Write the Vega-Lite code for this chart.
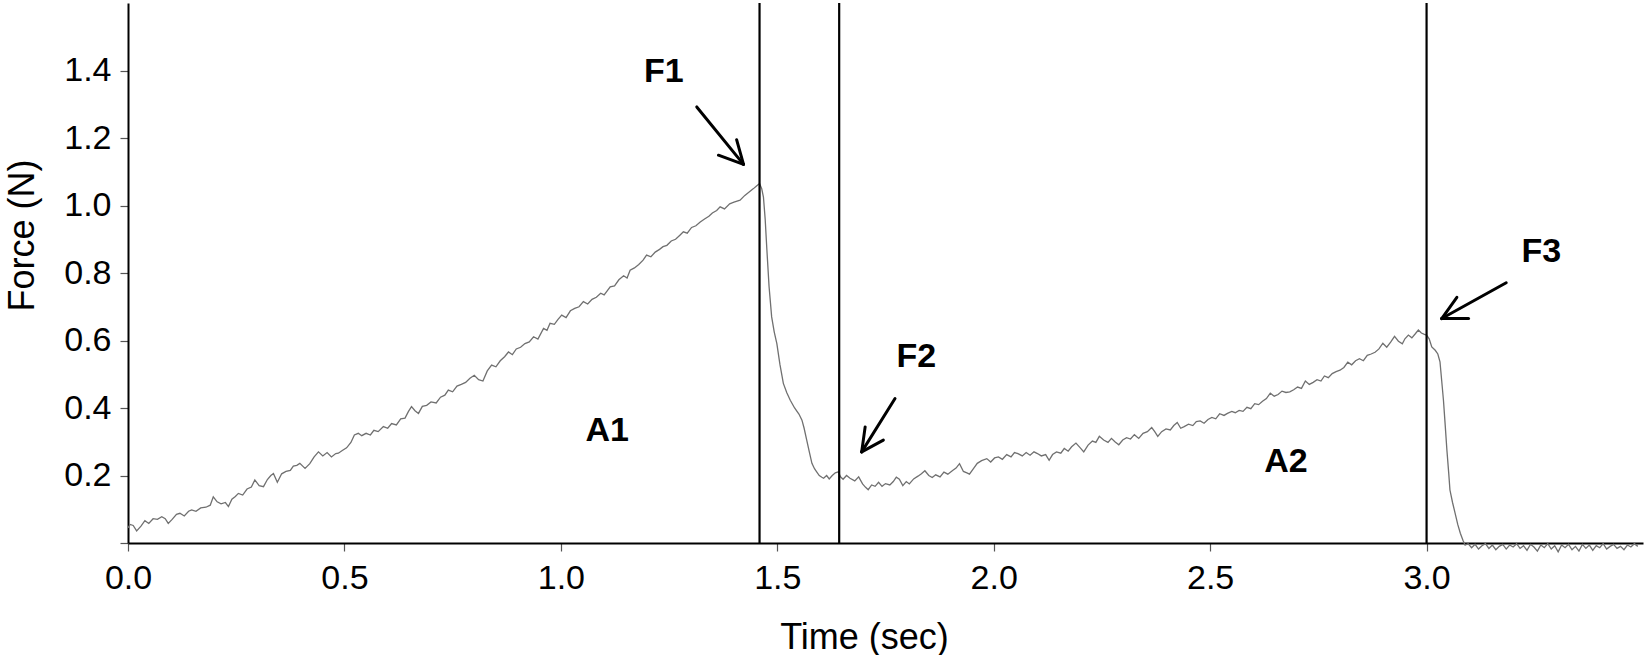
{
  "$schema": "https://vega.github.io/schema/vega-lite/v6.json",
  "autosize": {"type": "none"},
  "padding": {"left": 128, "top": 3, "right": 4, "bottom": 112},
  "width": 1515,
  "height": 540,
  "background": "white",
  "config": {
    "view": {"stroke": null},
    "font": "Liberation Sans",
    "axis": {
      "domainColor": "black",
      "domainWidth": 2,
      "tickColor": "#555",
      "tickWidth": 1.2,
      "tickSize": 8,
      "labelFont": "Liberation Sans",
      "labelFontSize": 34,
      "labelColor": "black",
      "labelFlush": false,
      "titleFont": "Liberation Sans",
      "titleFontSize": 36,
      "titleFontWeight": "normal",
      "titleColor": "black",
      "grid": false
    }
  },
  "datasets": {
    "force": [
      {"t":0.000,"f":0.045},{"t":0.005,"f":0.055},{"t":0.012,"f":0.052},{"t":0.020,"f":0.036},{"t":0.030,"f":0.050},
      {"t":0.039,"f":0.066},{"t":0.048,"f":0.058},{"t":0.058,"f":0.072},{"t":0.068,"f":0.070},{"t":0.078,"f":0.078},
      {"t":0.086,"f":0.072},{"t":0.093,"f":0.058},{"t":0.102,"f":0.070},{"t":0.112,"f":0.085},{"t":0.120,"f":0.088},
      {"t":0.130,"f":0.080},{"t":0.140,"f":0.094},{"t":0.147,"f":0.098},{"t":0.157,"f":0.094},{"t":0.168,"f":0.104},
      {"t":0.180,"f":0.106},{"t":0.190,"f":0.112},{"t":0.197,"f":0.137},{"t":0.206,"f":0.122},{"t":0.215,"f":0.116},
      {"t":0.225,"f":0.120},{"t":0.232,"f":0.108},{"t":0.240,"f":0.130},{"t":0.248,"f":0.138},{"t":0.255,"f":0.147},
      {"t":0.265,"f":0.142},{"t":0.275,"f":0.160},{"t":0.285,"f":0.166},{"t":0.293,"f":0.187},{"t":0.303,"f":0.170},
      {"t":0.313,"f":0.167},{"t":0.322,"f":0.188},{"t":0.330,"f":0.200},{"t":0.336,"f":0.206},{"t":0.345,"f":0.180},
      {"t":0.355,"f":0.205},{"t":0.365,"f":0.212},{"t":0.375,"f":0.215},{"t":0.382,"f":0.228},{"t":0.390,"f":0.230},
      {"t":0.397,"f":0.236},{"t":0.409,"f":0.221},{"t":0.420,"f":0.235},{"t":0.430,"f":0.255},{"t":0.440,"f":0.270},
      {"t":0.450,"f":0.258},{"t":0.460,"f":0.268},{"t":0.470,"f":0.255},{"t":0.480,"f":0.265},{"t":0.486,"f":0.266},
      {"t":0.495,"f":0.274},{"t":0.505,"f":0.282},{"t":0.515,"f":0.298},{"t":0.523,"f":0.320},{"t":0.532,"f":0.325},
      {"t":0.540,"f":0.318},{"t":0.550,"f":0.325},{"t":0.560,"f":0.320},{"t":0.568,"f":0.334},{"t":0.578,"f":0.330},
      {"t":0.590,"f":0.345},{"t":0.600,"f":0.340},{"t":0.609,"f":0.354},{"t":0.620,"f":0.350},{"t":0.630,"f":0.368},
      {"t":0.640,"f":0.370},{"t":0.648,"f":0.390},{"t":0.655,"f":0.404},{"t":0.663,"f":0.392},{"t":0.671,"f":0.384},
      {"t":0.680,"f":0.405},{"t":0.690,"f":0.408},{"t":0.700,"f":0.418},{"t":0.712,"f":0.415},{"t":0.722,"f":0.432},
      {"t":0.732,"f":0.438},{"t":0.740,"f":0.453},{"t":0.750,"f":0.448},{"t":0.760,"f":0.465},{"t":0.770,"f":0.470},
      {"t":0.780,"f":0.476},{"t":0.790,"f":0.488},{"t":0.800,"f":0.497},{"t":0.810,"f":0.484},{"t":0.820,"f":0.480},
      {"t":0.830,"f":0.510},{"t":0.840,"f":0.527},{"t":0.850,"f":0.522},{"t":0.860,"f":0.540},{"t":0.870,"f":0.552},
      {"t":0.879,"f":0.566},{"t":0.888,"f":0.558},{"t":0.897,"f":0.575},{"t":0.907,"f":0.580},{"t":0.917,"f":0.591},
      {"t":0.927,"f":0.596},{"t":0.937,"f":0.611},{"t":0.947,"f":0.604},{"t":0.960,"f":0.636},{"t":0.968,"f":0.630},
      {"t":0.975,"f":0.651},{"t":0.985,"f":0.648},{"t":0.993,"f":0.662},{"t":1.002,"f":0.675},{"t":1.012,"f":0.668},
      {"t":1.022,"f":0.688},{"t":1.032,"f":0.695},{"t":1.042,"f":0.700},{"t":1.052,"f":0.715},{"t":1.062,"f":0.708},
      {"t":1.072,"f":0.722},{"t":1.082,"f":0.728},{"t":1.092,"f":0.740},{"t":1.100,"f":0.735},{"t":1.114,"f":0.759},
      {"t":1.124,"f":0.762},{"t":1.134,"f":0.780},{"t":1.145,"f":0.792},{"t":1.153,"f":0.785},{"t":1.160,"f":0.808},
      {"t":1.170,"f":0.815},{"t":1.180,"f":0.825},{"t":1.190,"f":0.838},{"t":1.198,"f":0.853},{"t":1.208,"f":0.848},
      {"t":1.218,"f":0.862},{"t":1.228,"f":0.870},{"t":1.236,"f":0.878},{"t":1.245,"f":0.882},{"t":1.255,"f":0.895},
      {"t":1.265,"f":0.900},{"t":1.275,"f":0.912},{"t":1.283,"f":0.922},{"t":1.292,"f":0.918},{"t":1.302,"f":0.935},
      {"t":1.312,"f":0.940},{"t":1.322,"f":0.951},{"t":1.332,"f":0.960},{"t":1.342,"f":0.968},{"t":1.350,"f":0.978},
      {"t":1.360,"f":0.985},{"t":1.368,"f":0.996},{"t":1.378,"f":0.990},{"t":1.390,"f":1.005},{"t":1.400,"f":1.010},
      {"t":1.414,"f":1.016},{"t":1.425,"f":1.030},{"t":1.435,"f":1.040},{"t":1.445,"f":1.050},{"t":1.452,"f":1.058},
      {"t":1.459,"f":1.065},{"t":1.464,"f":1.050},{"t":1.468,"f":1.025},{"t":1.472,"f":0.960},{"t":1.476,"f":0.868},
      {"t":1.481,"f":0.760},{"t":1.487,"f":0.670},{"t":1.493,"f":0.625},{"t":1.499,"f":0.591},{"t":1.506,"f":0.530},
      {"t":1.514,"f":0.473},{"t":1.522,"f":0.445},{"t":1.530,"f":0.423},{"t":1.540,"f":0.400},{"t":1.550,"f":0.382},
      {"t":1.557,"f":0.364},{"t":1.562,"f":0.340},{"t":1.568,"f":0.305},{"t":1.574,"f":0.270},{"t":1.580,"f":0.236},
      {"t":1.586,"f":0.220},{"t":1.591,"f":0.211},{"t":1.597,"f":0.200},{"t":1.603,"f":0.195},{"t":1.607,"f":0.192},
      {"t":1.614,"f":0.200},{"t":1.620,"f":0.190},{"t":1.627,"f":0.200},{"t":1.634,"f":0.208},{"t":1.641,"f":0.211},
      {"t":1.646,"f":0.196},{"t":1.652,"f":0.189},{"t":1.660,"f":0.200},{"t":1.668,"f":0.192},{"t":1.679,"f":0.184},
      {"t":1.688,"f":0.196},{"t":1.697,"f":0.175},{"t":1.704,"f":0.165},{"t":1.710,"f":0.158},{"t":1.718,"f":0.172},
      {"t":1.726,"f":0.168},{"t":1.734,"f":0.180},{"t":1.742,"f":0.168},{"t":1.750,"f":0.176},{"t":1.760,"f":0.172},
      {"t":1.768,"f":0.182},{"t":1.775,"f":0.195},{"t":1.782,"f":0.189},{"t":1.790,"f":0.170},{"t":1.798,"f":0.182},
      {"t":1.805,"f":0.175},{"t":1.815,"f":0.190},{"t":1.825,"f":0.198},{"t":1.833,"f":0.205},{"t":1.841,"f":0.214},
      {"t":1.850,"f":0.200},{"t":1.858,"f":0.194},{"t":1.866,"f":0.202},{"t":1.876,"f":0.196},{"t":1.885,"f":0.210},
      {"t":1.894,"f":0.204},{"t":1.905,"f":0.215},{"t":1.913,"f":0.222},{"t":1.921,"f":0.235},{"t":1.930,"f":0.212},
      {"t":1.938,"f":0.208},{"t":1.944,"f":0.204},{"t":1.954,"f":0.222},{"t":1.962,"f":0.236},{"t":1.972,"f":0.244},
      {"t":1.984,"f":0.250},{"t":1.993,"f":0.240},{"t":2.002,"f":0.252},{"t":2.011,"f":0.255},{"t":2.020,"f":0.248},
      {"t":2.030,"f":0.262},{"t":2.040,"f":0.255},{"t":2.048,"f":0.268},{"t":2.056,"f":0.265},{"t":2.066,"f":0.258},
      {"t":2.075,"f":0.268},{"t":2.084,"f":0.260},{"t":2.093,"f":0.270},{"t":2.101,"f":0.265},{"t":2.110,"f":0.258},
      {"t":2.120,"f":0.262},{"t":2.128,"f":0.245},{"t":2.136,"f":0.262},{"t":2.145,"f":0.270},{"t":2.155,"f":0.266},
      {"t":2.163,"f":0.280},{"t":2.172,"f":0.272},{"t":2.180,"f":0.285},{"t":2.190,"f":0.296},{"t":2.200,"f":0.282},
      {"t":2.208,"f":0.270},{"t":2.218,"f":0.290},{"t":2.228,"f":0.302},{"t":2.236,"f":0.298},{"t":2.244,"f":0.316},
      {"t":2.254,"f":0.305},{"t":2.264,"f":0.298},{"t":2.272,"f":0.310},{"t":2.280,"f":0.300},{"t":2.289,"f":0.291},
      {"t":2.298,"f":0.305},{"t":2.307,"f":0.312},{"t":2.316,"f":0.308},{"t":2.325,"f":0.321},{"t":2.335,"f":0.310},
      {"t":2.345,"f":0.325},{"t":2.355,"f":0.330},{"t":2.365,"f":0.342},{"t":2.372,"f":0.330},{"t":2.379,"f":0.316},
      {"t":2.388,"f":0.330},{"t":2.398,"f":0.338},{"t":2.408,"f":0.335},{"t":2.416,"f":0.348},{"t":2.424,"f":0.357},
      {"t":2.432,"f":0.340},{"t":2.440,"f":0.345},{"t":2.450,"f":0.352},{"t":2.460,"f":0.348},{"t":2.468,"f":0.360},
      {"t":2.477,"f":0.362},{"t":2.486,"f":0.355},{"t":2.495,"f":0.366},{"t":2.504,"f":0.372},{"t":2.513,"f":0.368},
      {"t":2.522,"f":0.383},{"t":2.532,"f":0.378},{"t":2.540,"f":0.384},{"t":2.550,"f":0.390},{"t":2.558,"f":0.386},
      {"t":2.567,"f":0.393},{"t":2.576,"f":0.390},{"t":2.585,"f":0.402},{"t":2.594,"f":0.398},{"t":2.603,"f":0.413},
      {"t":2.612,"f":0.410},{"t":2.621,"f":0.420},{"t":2.630,"f":0.428},{"t":2.639,"f":0.444},{"t":2.648,"f":0.435},
      {"t":2.657,"f":0.440},{"t":2.666,"f":0.450},{"t":2.675,"f":0.446},{"t":2.684,"f":0.448},{"t":2.693,"f":0.454},
      {"t":2.702,"f":0.462},{"t":2.711,"f":0.458},{"t":2.720,"f":0.480},{"t":2.729,"f":0.470},{"t":2.738,"f":0.476},
      {"t":2.747,"f":0.484},{"t":2.756,"f":0.480},{"t":2.764,"f":0.495},{"t":2.773,"f":0.490},{"t":2.782,"f":0.502},
      {"t":2.791,"f":0.508},{"t":2.800,"f":0.512},{"t":2.809,"f":0.520},{"t":2.818,"f":0.536},{"t":2.827,"f":0.528},
      {"t":2.836,"f":0.540},{"t":2.845,"f":0.546},{"t":2.854,"f":0.540},{"t":2.863,"f":0.556},{"t":2.872,"f":0.560},
      {"t":2.881,"f":0.565},{"t":2.890,"f":0.575},{"t":2.899,"f":0.592},{"t":2.908,"f":0.580},{"t":2.917,"f":0.595},
      {"t":2.926,"f":0.612},{"t":2.935,"f":0.598},{"t":2.944,"f":0.590},{"t":2.950,"f":0.605},{"t":2.958,"f":0.616},
      {"t":2.966,"f":0.608},{"t":2.974,"f":0.620},{"t":2.981,"f":0.631},{"t":2.988,"f":0.622},{"t":2.995,"f":0.618},
      {"t":3.000,"f":0.616},{"t":3.006,"f":0.605},{"t":3.012,"f":0.581},{"t":3.020,"f":0.571},{"t":3.026,"f":0.560},
      {"t":3.031,"f":0.537},{"t":3.035,"f":0.480},{"t":3.039,"f":0.423},{"t":3.043,"f":0.350},{"t":3.047,"f":0.275},
      {"t":3.051,"f":0.210},{"t":3.054,"f":0.157},{"t":3.060,"f":0.120},{"t":3.066,"f":0.088},{"t":3.072,"f":0.055},
      {"t":3.078,"f":0.029},{"t":3.084,"f":0.008},{"t":3.089,"f":-0.006},{"t":3.096,"f":-0.002},{"t":3.104,"f":-0.014},
      {"t":3.112,"f":-0.004},{"t":3.120,"f":-0.018},{"t":3.128,"f":-0.008},{"t":3.136,"f":-0.002},{"t":3.144,"f":-0.016},
      {"t":3.152,"f":-0.006},{"t":3.160,"f":-0.020},{"t":3.168,"f":-0.010},{"t":3.176,"f":-0.004},{"t":3.184,"f":-0.018},
      {"t":3.192,"f":-0.006},{"t":3.200,"f":-0.012},{"t":3.208,"f":-0.002},{"t":3.216,"f":-0.016},{"t":3.224,"f":-0.008},
      {"t":3.232,"f":-0.022},{"t":3.240,"f":-0.004},{"t":3.248,"f":-0.012},{"t":3.256,"f":-0.024},{"t":3.264,"f":-0.006},
      {"t":3.272,"f":-0.014},{"t":3.280,"f":-0.002},{"t":3.288,"f":-0.018},{"t":3.296,"f":-0.008},{"t":3.304,"f":-0.026},
      {"t":3.312,"f":-0.006},{"t":3.320,"f":-0.014},{"t":3.328,"f":-0.004},{"t":3.336,"f":-0.020},{"t":3.344,"f":-0.010},
      {"t":3.352,"f":-0.024},{"t":3.360,"f":-0.004},{"t":3.368,"f":-0.016},{"t":3.376,"f":-0.006},{"t":3.384,"f":-0.022},
      {"t":3.392,"f":-0.008},{"t":3.400,"f":-0.014},{"t":3.408,"f":-0.002},{"t":3.416,"f":-0.018},{"t":3.424,"f":-0.010},
      {"t":3.432,"f":-0.004},{"t":3.440,"f":-0.016},{"t":3.448,"f":-0.010},{"t":3.456,"f":-0.020},{"t":3.464,"f":-0.006},
      {"t":3.472,"f":-0.012},{"t":3.480,"f":-0.002},{"t":3.488,"f":-0.010}
    ],
    "markers": [
      {"t": 1.459},
      {"t": 1.643},
      {"t": 3.0}
    ],
    "arrows": [
      {"x": 1.314, "y": 1.292, "x2": 1.422, "y2": 1.122},
      {"x": 1.422, "y": 1.122, "x2": 1.364, "y2": 1.149},
      {"x": 1.422, "y": 1.122, "x2": 1.406, "y2": 1.195},
      {"x": 1.772, "y": 0.428, "x2": 1.695, "y2": 0.270},
      {"x": 1.695, "y": 0.270, "x2": 1.745, "y2": 0.305},
      {"x": 1.695, "y": 0.270, "x2": 1.703, "y2": 0.344},
      {"x": 3.184, "y": 0.771, "x2": 3.035, "y2": 0.665},
      {"x": 3.035, "y": 0.665, "x2": 3.097, "y2": 0.665},
      {"x": 3.035, "y": 0.665, "x2": 3.070, "y2": 0.728}
    ],
    "labels": [
      {"t": 1.238, "f": 1.396, "text": "F1"},
      {"t": 1.821, "f": 0.551, "text": "F2"},
      {"t": 3.265, "f": 0.862, "text": "F3"},
      {"t": 1.107, "f": 0.333, "text": "A1"},
      {"t": 2.675, "f": 0.239, "text": "A2"}
    ]
  },
  "layer": [
    {
      "data": {"name": "force"},
      "mark": {"type": "line", "color": "#707070", "strokeWidth": 1.3},
      "encoding": {
        "x": {
          "field": "t",
          "type": "quantitative",
          "scale": {"domain": [0, 3.5], "nice": false, "zero": false},
          "axis": {
            "title": "Time (sec)",
            "values": [0, 0.5, 1.0, 1.5, 2.0, 2.5, 3.0],
            "format": ".1f",
            "labelPadding": 10,
            "titleX": 736,
            "titleY": 105,
            "titleBaseline": "alphabetic"
          }
        },
        "y": {
          "field": "f",
          "type": "quantitative",
          "scale": {"domain": [0, 1.6], "nice": false, "zero": false},
          "axis": {
            "title": "Force (N)",
            "values": [0, 0.2, 0.4, 0.6, 0.8, 1.0, 1.2, 1.4],
            "labelExpr": "datum.value == 0 ? '' : format(datum.value, '.1f')",
            "labelPadding": 9,
            "titleX": -106,
            "titleY": 232,
            "titleBaseline": "middle"
          }
        }
      }
    },
    {
      "data": {"name": "markers"},
      "mark": {"type": "rule", "color": "black", "strokeWidth": 2.2},
      "encoding": {
        "x": {"field": "t", "type": "quantitative"}
      }
    },
    {
      "data": {"name": "arrows"},
      "mark": {"type": "rule", "color": "black", "strokeWidth": 3, "strokeCap": "round"},
      "encoding": {
        "x": {"field": "x", "type": "quantitative"},
        "y": {"field": "y", "type": "quantitative"},
        "x2": {"field": "x2"},
        "y2": {"field": "y2"}
      }
    },
    {
      "data": {"name": "labels"},
      "mark": {"type": "text", "font": "Liberation Sans", "fontWeight": "bold", "fontSize": 34, "color": "black", "align": "center", "baseline": "middle"},
      "encoding": {
        "x": {"field": "t", "type": "quantitative"},
        "y": {"field": "f", "type": "quantitative"},
        "text": {"field": "text"}
      }
    }
  ]
}
